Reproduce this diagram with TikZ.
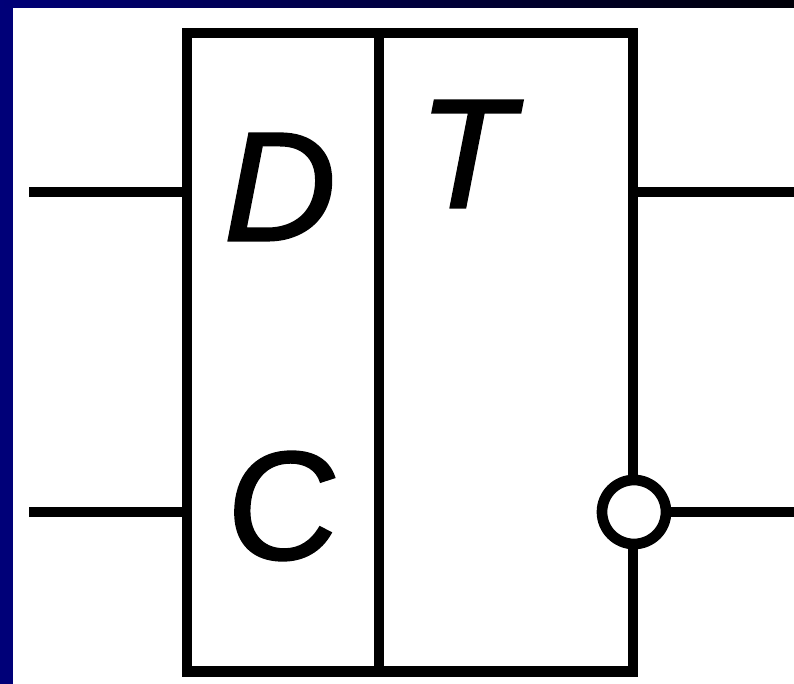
\documentclass[tikz,border=0pt]{standalone}
\usepackage{fontspec}
\setmainfont{Liberation Sans}
\newfontfamily\labfont[FakeBold=1.6,ItalicFont={Liberation Sans Italic}]{Liberation Sans}
\newfontfamily\labslant[FakeBold=1,FakeSlant=0.08]{Liberation Sans}
\definecolor{frame}{RGB}{0,0,120}
\definecolor{frameend}{RGB}{0,0,8}
\tikzset{
 wire/.style={line width=10.7pt},
 lab/.style={font=\fontsize{155}{155}\labfont\itshape, inner sep=0pt, anchor=center},
 labc/.style={font=\fontsize{155}{155}\labslant, inner sep=0pt, anchor=center},
}
\begin{document}
\begin{tikzpicture}[x=1pt,y=-1pt,line join=miter]
\useasboundingbox (0,0) rectangle (794,684);
\fill[frame] (0,0) rectangle (13,684);
\shade[left color=frame,right color=frameend] (0,0) rectangle (794,8);
\draw[wire] (187,33) rectangle (633,671.5);
\coordinate (top) at (379,33);
\coordinate (bot) at (379,671.5);
\draw[wire] (top) -- (bot);
\coordinate (i1) at (29,192);
\coordinate (i1e) at (187,192);
\coordinate (i2) at (29,512);
\coordinate (i2e) at (187,512);
\coordinate (o1) at (794,192);
\coordinate (o1e) at (633,192);
\coordinate (o2) at (794,512);
\draw[wire] (i1) -- (i1e);
\draw[wire] (i2) -- (i2e);
\draw[wire] (o1e) -- (o1);
\node[circle,draw,fill=white,line width=10.7pt,minimum size=64pt,inner sep=0pt] (bub) at (634,512) {};
\draw[wire] (bub) -- (o2);
\node[lab] (d) at (280,187) {D};
\node[labc] (c) at (279,506) {C};
\node[lab] (t) at (466,154) {T};
\end{tikzpicture}
\end{document}
